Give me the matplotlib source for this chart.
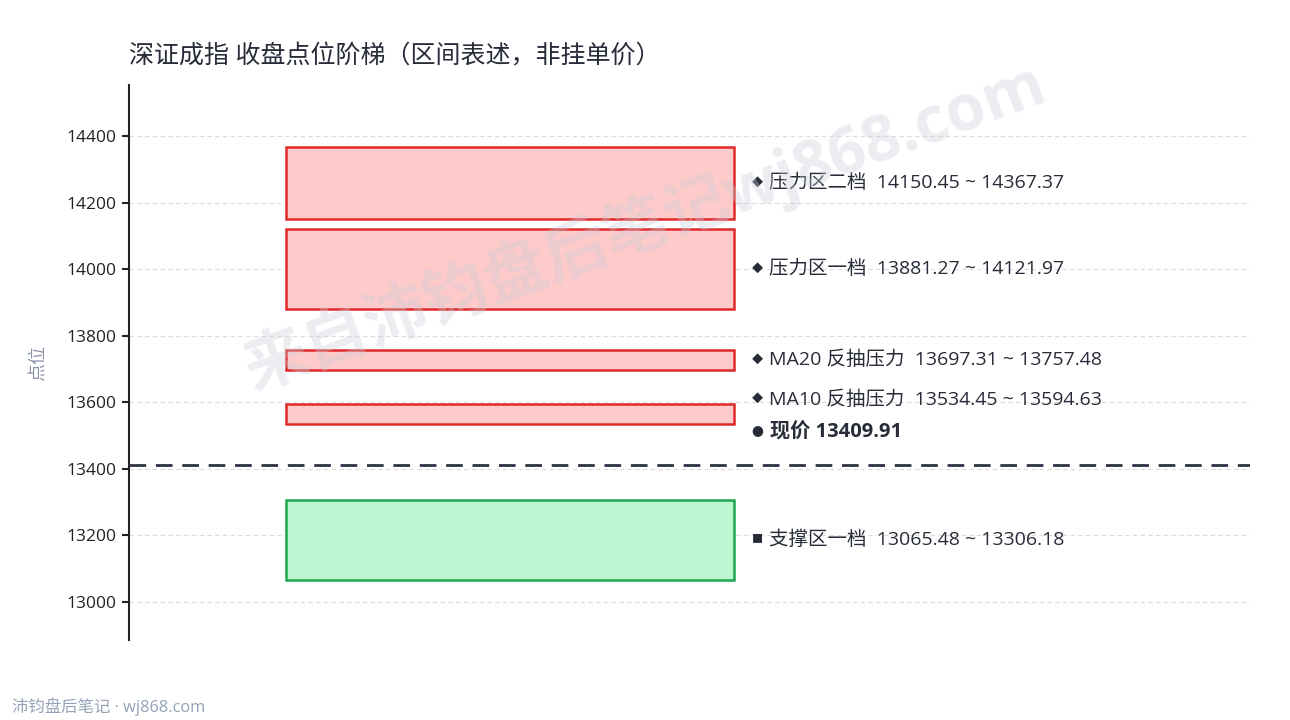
import matplotlib
matplotlib.use('Agg')
import matplotlib.pyplot as plt
import matplotlib.patches as mpatches

plt.rcParams['font.family'] = ['Open Sans', 'Noto Sans CJK SC', 'DejaVu Sans']

# ── Data ──────────────────────────────────────────────────────────────────────
ZONE_NAMES = ['压力区二档', '压力区一档', 'MA20 反抽压力', 'MA10 反抽压力', '支撑区一档']
ZONE_LOW   = [14150.45, 13881.27, 13697.31, 13534.45, 13065.48]
ZONE_HIGH  = [14367.37, 14121.97, 13757.48, 13594.63, 13306.18]
ZONE_KIND  = ['r', 'r', 'r', 'r', 's']   # r = 压力, s = 支撑
CURRENT    = 13409.91
Y_TICKS    = [13000, 13200, 13400, 13600, 13800, 14000, 14200, 14400]

TITLE  = '深证成指 收盘点位阶梯（区间表述，非挂单价）'
FOOTER = '沛钧盘后笔记 · wj868.com'
WATERMARK = '来自沛钧盘后笔记wj868.com'

# ── Colors ────────────────────────────────────────────────────────────────────
C_RES_FACE = '#ffcaca'
C_RES_EDGE = '#e02a2a'
C_SUP_FACE = '#bbf7d0'
C_SUP_EDGE = '#1ea64f'
C_TEXT     = '#272c38'
C_CUR      = '#2d3344'
C_GRID     = '#dcdcdc'
C_FOOT     = '#94a3b8'

fig = plt.figure(figsize=(12.9, 7.2), dpi=100, facecolor='white')
ax = fig.add_axes([0.1, 0.111, 0.869, 0.771])

# grid
for t in Y_TICKS:
	ax.axhline(t, color=C_GRID, linewidth=0.8, linestyle=(0, (4, 3)), zorder=0)

X0, X1 = 0.14, 0.54
for name, lo, hi, kind in zip(ZONE_NAMES, ZONE_LOW, ZONE_HIGH, ZONE_KIND):
	face, edge = (C_RES_FACE, C_RES_EDGE) if kind == 'r' else (C_SUP_FACE, C_SUP_EDGE)
	ax.add_patch(mpatches.Rectangle((X0, lo), X1 - X0, hi - lo,
		facecolor=face, edgecolor=edge, linewidth=1.8, zorder=2))
	mid = (lo + hi) / 2
	# nudge label away from the current-price label when too close
	if 0 < mid - CURRENT < 200:
		mid += 43
	mark = '◆' if kind == 'r' else '■'
	ax.text(0.556, mid, mark, fontsize=8, color=C_TEXT, ha='left', va='center', zorder=5)
	ax.text(0.571, mid, f'{name}  {lo:.2f} ~ {hi:.2f}', fontsize=14,
		color=C_TEXT, ha='left', va='center', zorder=5)

# current price
ax.axhline(CURRENT, color=C_CUR, linewidth=2, linestyle=(0, (6, 3.5)), zorder=4)
ax.text(0.555, CURRENT + 98, '●', fontsize=8.5, color=C_TEXT, ha='left', va='center', zorder=5)
ax.text(0.572, CURRENT + 98, f'现价 {CURRENT:.2f}', fontsize=14.5, fontweight='bold',
	color=C_TEXT, ha='left', va='center', zorder=5)

ax.set_xlim(0, 1)
ax.set_ylim(12884, 14555)
ax.set_xticks([])
ax.set_yticks(Y_TICKS)
ax.set_yticklabels([str(t) for t in Y_TICKS])
ax.tick_params(axis='y', labelsize=12.5, colors='#222222', length=5, width=1.5, pad=4)
for s in ['top', 'right', 'bottom']:
	ax.spines[s].set_visible(False)
ax.spines['left'].set_color('#222222')
ax.spines['left'].set_linewidth(1.5)
ax.set_ylabel('点位', fontsize=13, color='#8a94a8', labelpad=14)

fig.text(0.1, 0.921, TITLE, fontsize=18, color=C_TEXT, ha='left', va='center')
fig.text(0.009, 0.018, FOOTER, fontsize=11.8, color=C_FOOT, ha='left', va='center')
fig.text(0.5, 0.685, WATERMARK, fontsize=46, fontweight='bold', color='#c9cdd8',
	alpha=0.35, rotation=20, ha='center', va='center', zorder=10)

fig.savefig('out.png', dpi=100, facecolor='white')
